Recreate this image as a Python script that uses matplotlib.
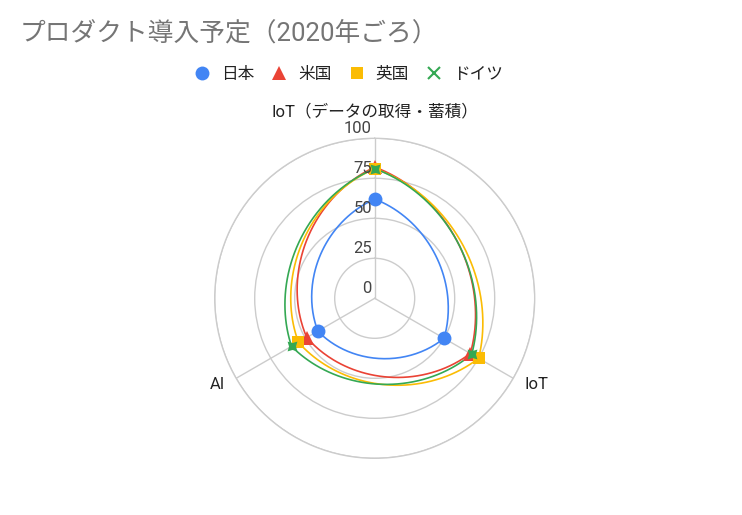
import matplotlib
matplotlib.use("Agg")
import matplotlib.pyplot as plt
from matplotlib.lines import Line2D
import numpy as np

plt.rcParams['font.family'] = ['Roboto', 'Noto Sans CJK JP', 'DejaVu Sans']

title = "プロダクト導入予定（2020年ごろ）"
axis_labels = ["IoT（データの取得・蓄積）", "IoT", "AI"]
series_names = ["日本", "米国", "英国", "ドイツ"]
japan = [62, 50, 41]
usa = [82, 69, 49]
uk = [81, 75, 55]
germany = [81, 70, 60]
r_ticks = [0, 25, 50, 75, 100]

series = [japan, usa, uk, germany]
colors = ["#4285F4", "#EA4335", "#FBBC04", "#34A853"]
markers = ["o", "^", "s", (4, 1, 45)]
msizes = [10, 9.5, 8.5, 10]

angles = np.deg2rad([0, 120, 240])


def smooth_closed(theta, r, w=0.65, n=80):
    # 弦（直線）と極座標の線形補間を混ぜて外側にふくらんだ曲線を作る
    th_all, r_all = [], []
    m = len(theta)
    for i in range(m):
        t0, t1 = theta[i], theta[i] + (2 * np.pi / m)
        r0, r1 = r[i], r[(i + 1) % m]
        t = np.linspace(0, 1, n, endpoint=False)
        th_p = t0 + (t1 - t0) * t
        r_p = r0 + (r1 - r0) * t
        xp, yp = r_p * np.sin(th_p), r_p * np.cos(th_p)
        x0, y0 = r0 * np.sin(t0), r0 * np.cos(t0)
        x1, y1 = r1 * np.sin(t1), r1 * np.cos(t1)
        xc, yc = x0 + (x1 - x0) * t, y0 + (y1 - y0) * t
        xs = w * xp + (1 - w) * xc
        ys = w * yp + (1 - w) * yc
        th_all.append(np.arctan2(xs, ys))
        r_all.append(np.hypot(xs, ys))
    th_all = np.concatenate(th_all + [[theta[0]]])
    r_all = np.concatenate(r_all + [[r[0]]])
    return np.unwrap(th_all), r_all


fig = plt.figure(figsize=(7.42, 5.15), dpi=100)
ax = fig.add_axes([214.7 / 742, 56.7 / 515, 320 / 742, 320 / 515], projection='polar')
ax.set_theta_zero_location('N')
ax.set_theta_direction(-1)
ax.set_ylim(0, 100)
ax.set_rgrids([25, 50, 75, 100], labels=[''] * 4)
ax.set_thetagrids(np.rad2deg(angles), labels=[''] * 3)
ax.grid(color='#cccccc', linewidth=1)
ax.spines['polar'].set_color('#cccccc')
ax.spines['polar'].set_linewidth(1)

for vals, c in zip(series, colors):
    th, rr = smooth_closed(angles, vals)
    ax.plot(th, rr, color=c, linewidth=1.2, zorder=3)
for vals, c, mk, ms in zip(series, colors, markers, msizes):
    ax.plot(angles, vals, linestyle='none', marker=mk, color=c, markersize=ms,
            markeredgewidth=0, zorder=4)

for v in r_ticks:
    ax.annotate(str(v), xy=(0, v), xytext=(-2, 7), textcoords='offset points',
                ha='right', va='center', fontsize=12, color='#444444', zorder=5)

ax.text(angles[0], 116.5, axis_labels[0], ha='center', va='center', fontsize=12,
        color='#222222', clip_on=False)
ax.text(angles[1], 108, axis_labels[1], ha='left', va='center', fontsize=12,
        color='#222222', clip_on=False)
ax.text(angles[2], 108, axis_labels[2], ha='right', va='center', fontsize=12,
        color='#222222', clip_on=False)

fig.text(20 / 742, 1 - 33 / 515, title, ha='left', va='center', fontsize=18.5,
         color='#757575')

handles = [Line2D([], [], linestyle='none', marker=mk, color=c, markersize=ms,
                  markeredgewidth=0) for c, mk, ms in zip(colors, markers, msizes)]
handles[3] = Line2D([], [], linestyle='none', marker='x', color=colors[3],
                    markersize=8, markeredgewidth=1.5)
fig.legend(handles, series_names, loc='center', bbox_to_anchor=(349 / 742, 1 - 74 / 515),
           ncol=4, frameon=False, fontsize=12, handlelength=0.8, handletextpad=0.75,
           columnspacing=1.1, labelcolor='#222222')

fig.savefig('out.png', dpi=100)
